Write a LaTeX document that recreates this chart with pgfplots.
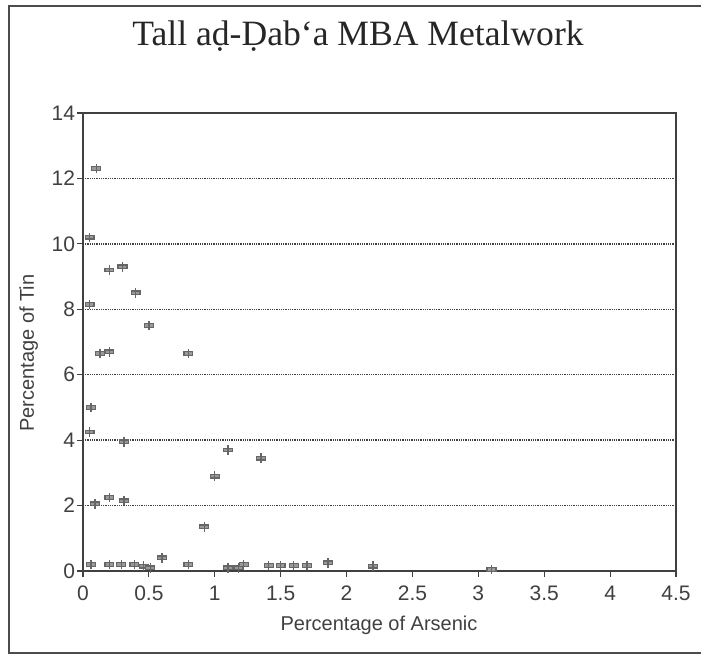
\documentclass[border=0pt]{standalone}
\usepackage{pgfplots}
\pgfplotsset{compat=1.18}
\usepackage{fontspec}
\setmainfont{Liberation Sans}
\newfontfamily\titlefont{Liberation Serif}
\pgfdeclareplotmark{tin}{%
  \pgfpathrectangle{\pgfqpoint{-2.2pt}{-0.9pt}}{\pgfqpoint{4.4pt}{1.8pt}}%
  \pgfusepathqfillstroke
  \pgfpathmoveto{\pgfqpoint{0pt}{-2.4pt}}\pgfpathlineto{\pgfqpoint{0pt}{2.4pt}}%
  \pgfusepathqstroke}
\begin{document}
\begin{tikzpicture}[x=0.5pt,y=0.5pt]
\path[use as bounding box] (0,0) rectangle (701,655);
\draw[line width=1pt,black!70] (701,649) -- (9,649) -- (9,2) -- (701,2);
\node[font=\titlefont\fontsize{17.8}{19}\selectfont, anchor=base, black!85] at (358,610) {Tall aḍ-Ḍab‘a MBA Metalwork};
\begin{axis}[
  at={(83pt*0.5,84pt*0.5)}, anchor=south west,
  scale only axis, width=296.5pt, height=229pt,
  xmin=0, xmax=4.5, ymin=0, ymax=14,
  xtick={0,0.5,...,4.5}, ytick={0,2,...,14},
  xtick pos=bottom, ytick pos=left,
  tick align=outside, major tick length=3pt,
  axis line style={black!75, line width=0.7pt},
  every tick/.style={black!75, line width=0.6pt},
  ymajorgrids,
  major grid style={black!75, line width=0.7pt, dash pattern=on 0.5pt off 0.4pt},
  tick label style={font=\fontsize{10.5}{12}\selectfont, text=black!75},
  /pgf/number format/assume math mode=true,
  yticklabel style={inner sep=0.8pt},
  xticklabel style={yshift=-1pt},
  clip=false,
]
\addplot[only marks, mark=tin, mark options={fill=black!40, draw=black!60, line width=0.65pt}] coordinates {
(0.10,12.3) (0.05,10.2) (0.20,9.2) (0.30,9.3) (0.40,8.5) (0.50,7.5) (0.05,8.15)
(0.13,6.65) (0.20,6.7) (0.80,6.65) (0.06,5.0) (0.05,4.25) (0.31,3.95)
(0.09,2.05) (0.20,2.25) (0.31,2.15) (1.00,2.9) (1.10,3.7) (0.92,1.35) (1.35,3.45)
(0.06,0.2) (0.20,0.2) (0.29,0.2) (0.39,0.2) (0.46,0.15) (0.51,0.1) (0.60,0.4)
(0.80,0.2) (1.10,0.1) (1.18,0.1) (1.22,0.2) (1.41,0.17) (1.50,0.17) (1.60,0.17)
(1.70,0.17) (1.86,0.25) (2.20,0.15) (3.10,0.05)
};
\end{axis}
\node[font=\fontsize{10}{12}\selectfont, anchor=base, text=black!75] at (379,25) {Percentage of Arsenic};
\node[font=\fontsize{10}{12}\selectfont, rotate=90, anchor=base, text=black!75] at (34,302) {Percentage of Tin};
\end{tikzpicture}
\end{document}
